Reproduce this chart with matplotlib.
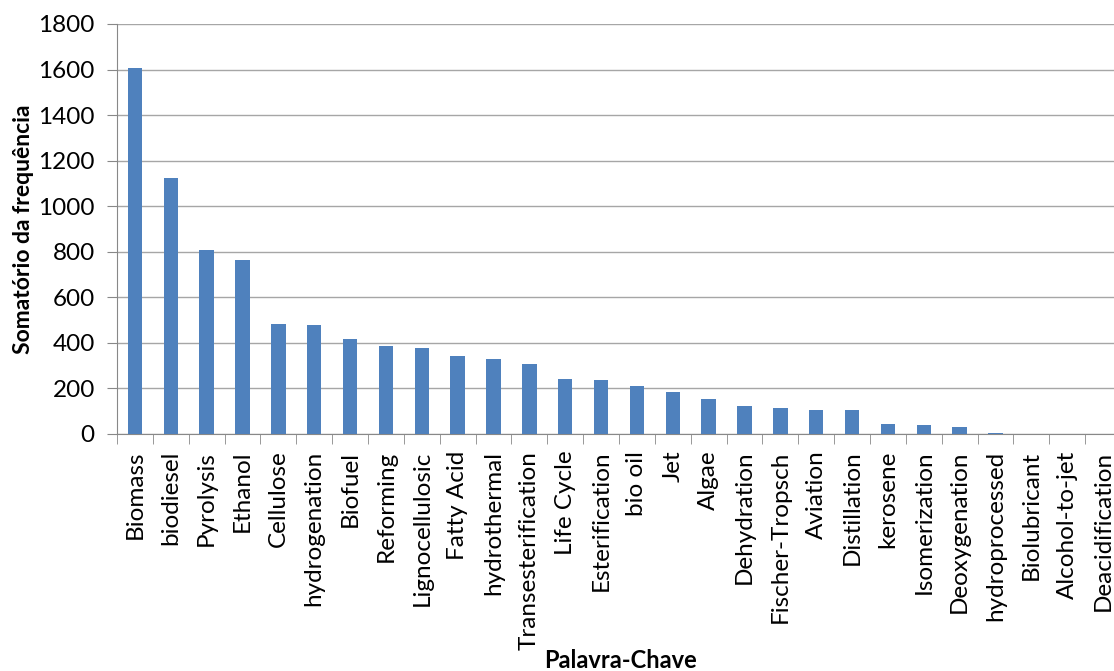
import matplotlib
matplotlib.use('Agg')
import matplotlib.pyplot as plt
import numpy as np

# palavras-chave e somatório da frequência
keywords = ['Biomass', 'biodiesel', 'Pyrolysis', 'Ethanol', 'Cellulose', 'hydrogenation',
            'Biofuel', 'Reforming', 'Lignocellulosic', 'Fatty Acid', 'hydrothermal',
            'Transesterification', 'Life Cycle', 'Esterification', 'bio oil', 'Jet', 'Algae',
            'Dehydration', 'Fischer-Tropsch', 'Aviation', 'Distillation', 'kerosene',
            'Isomerization', 'Deoxygenation', 'hydroprocessed', 'Biolubricant',
            'Alcohol-to-jet', 'Deacidification']
frequency = [1605, 1122, 809, 762, 483, 478, 416, 386, 377, 344, 331,
             306, 241, 238, 212, 183, 154, 124, 116, 107, 107, 44,
             40, 31, 5, 0, 0, 0]
y_ticks = [0, 200, 400, 600, 800, 1000, 1200, 1400, 1600, 1800]

plt.rcParams['font.family'] = ['Lato', 'DejaVu Sans']

fig = plt.figure(figsize=(11.14, 6.71), dpi=100)
ax = fig.add_axes([117 / 1114, 1 - 434 / 671, 1004 / 1114, 410 / 671])

x = np.arange(len(keywords))
ax.bar(x, frequency, width=0.4, color='#4F81BD', zorder=3)

ax.set_xlim(-0.5, len(keywords) - 0.5)
ax.set_ylim(0, 1800)
ax.set_yticks(y_ticks)
ax.yaxis.grid(True, color='#a6a6a6', linewidth=1, zorder=0)

ax.set_xticks(x)
ax.set_xticklabels(keywords, rotation=90, fontsize=17.5)
ax.set_xticks(np.arange(-0.5, len(keywords)), minor=True)
ax.tick_params(axis='x', which='major', length=0, pad=12)
ax.tick_params(axis='x', which='minor', length=7, color='#888888', direction='out')
ax.tick_params(axis='y', labelsize=17.5, length=7, color='#888888', pad=9)

for s in ['top', 'right']:
    ax.spines[s].set_visible(False)
ax.spines['left'].set_color('#888888')
ax.spines['bottom'].set_color('#888888')

ax.set_ylabel('Somatório da frequência', fontsize=16.5, fontweight='bold')
ax.yaxis.set_label_coords(-0.083, 0.5)
fig.text(620 / 1114, 1 - 661 / 671, 'Palavra-Chave', ha='center', va='center',
         fontsize=17, fontweight='bold')

plt.savefig('out.png', dpi=100)
